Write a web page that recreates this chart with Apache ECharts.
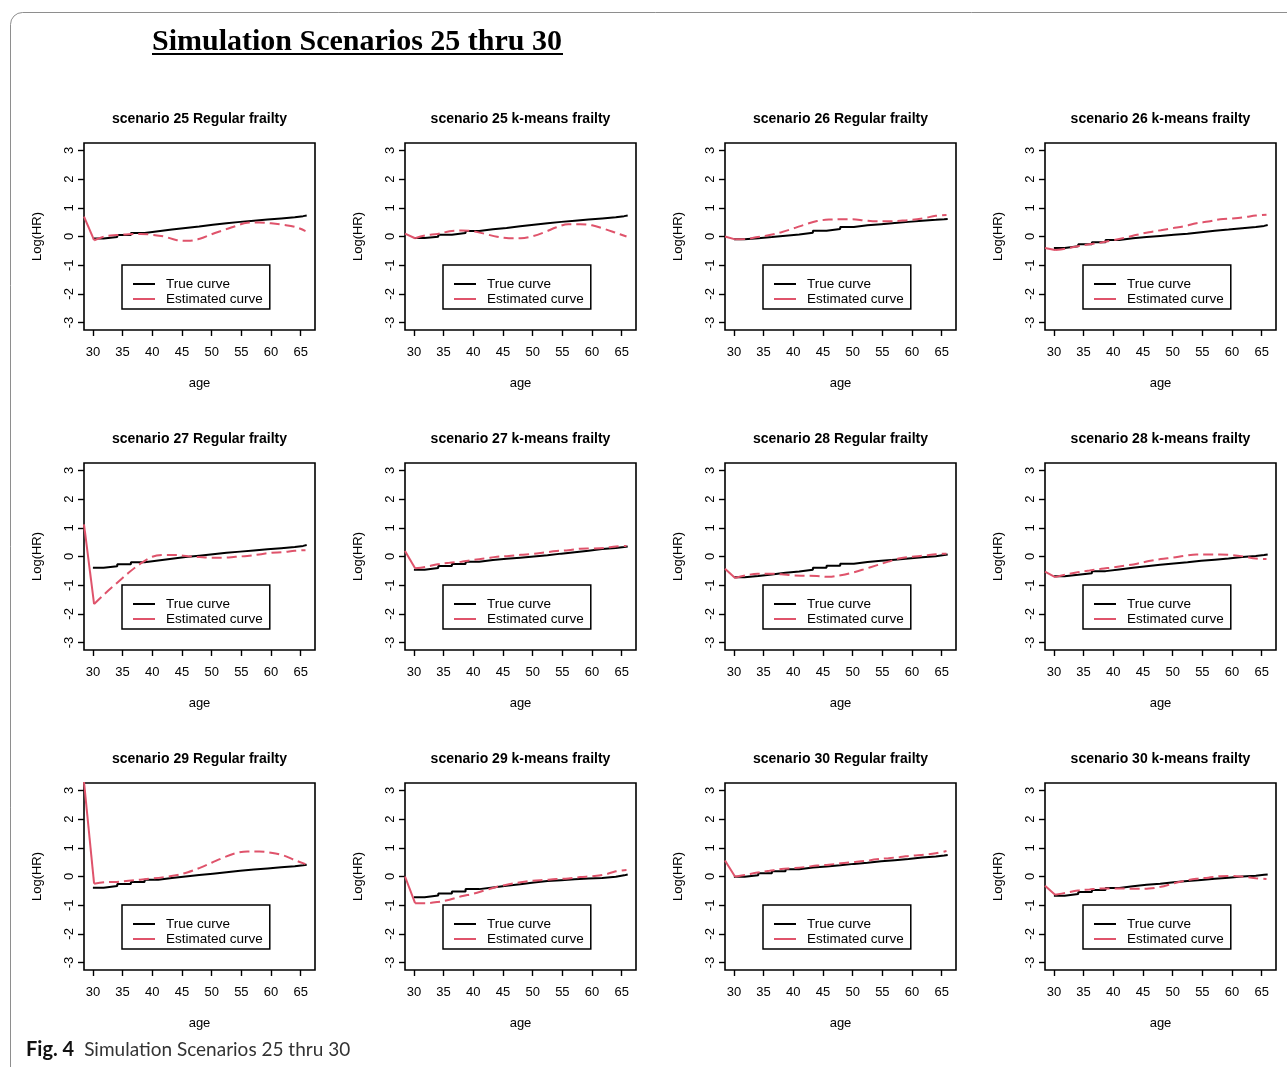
<!DOCTYPE html>
<html>
<head>
<meta charset="utf-8">
<script src="https://cdn.jsdelivr.net/npm/echarts@6/dist/echarts.min.js"></script>
<style>
  html, body { margin: 0; padding: 0; background: #fff; }
  #chart { width: 1287px; height: 1067px; }
</style>
</head>
<body>
<div id="chart"></div>
<script>
// Axis ticks
const AGE_TICKS = [30, 35, 40, 45, 50, 55, 60, 65];
const LOG_HR_TICKS = [-3, -2, -1, 0, 1, 2, 3];

// Ages where the true (step) curve changes level
const TRUE_AGES = [30.0, 31.8, 34.1, 36.4, 38.7, 41.0, 43.3, 45.6, 47.9, 50.2, 52.5, 54.8, 57.1, 59.4, 61.7, 64.0, 65.4, 66.0];
// Ages where the estimated curve is evaluated
const EST_AGES = [28.5, 30.2, 32, 34, 36, 38, 40, 42, 44, 46, 48, 50, 52, 54, 56, 58, 60, 62, 64, 65.8];

const PANEL_TITLES = [
  'scenario 25 Regular frailty', 'scenario 25 k-means frailty',
  'scenario 26 Regular frailty', 'scenario 26 k-means frailty',
  'scenario 27 Regular frailty', 'scenario 27 k-means frailty',
  'scenario 28 Regular frailty', 'scenario 28 k-means frailty',
  'scenario 29 Regular frailty', 'scenario 29 k-means frailty',
  'scenario 30 Regular frailty', 'scenario 30 k-means frailty'
];

// True log hazard ratio, one level per TRUE_AGES entry
const TRUE_S25_REG = [-0.07, -0.02, 0.05, 0.12, 0.18, 0.24, 0.30, 0.35, 0.41, 0.46, 0.51, 0.55, 0.59, 0.63, 0.67, 0.71, 0.73, 0.74];
const TRUE_S25_KM  = [-0.05, -0.01, 0.06, 0.12, 0.19, 0.25, 0.30, 0.36, 0.41, 0.46, 0.51, 0.55, 0.59, 0.63, 0.67, 0.71, 0.73, 0.75];
const TRUE_S26_REG = [-0.10, -0.06, -0.02, 0.03, 0.07, 0.13, 0.20, 0.26, 0.33, 0.39, 0.43, 0.47, 0.51, 0.55, 0.58, 0.60, 0.61, 0.62];
const TRUE_S26_KM  = [-0.40, -0.34, -0.27, -0.20, -0.12, -0.06, -0.02, 0.02, 0.06, 0.10, 0.15, 0.20, 0.24, 0.29, 0.33, 0.37, 0.40, 0.41];
const TRUE_S27_REG = [-0.39, -0.34, -0.27, -0.20, -0.14, -0.08, -0.02, 0.03, 0.08, 0.13, 0.17, 0.21, 0.25, 0.29, 0.33, 0.37, 0.40, 0.41];
const TRUE_S27_KM  = [-0.46, -0.40, -0.33, -0.26, -0.18, -0.12, -0.08, -0.04, 0.00, 0.04, 0.10, 0.15, 0.20, 0.26, 0.30, 0.33, 0.35, 0.36];
const TRUE_S28_REG = [-0.72, -0.68, -0.63, -0.57, -0.52, -0.46, -0.39, -0.32, -0.25, -0.19, -0.15, -0.11, -0.07, -0.03, 0.01, 0.05, 0.07, 0.08];
const TRUE_S28_KM  = [-0.69, -0.64, -0.58, -0.51, -0.45, -0.39, -0.34, -0.29, -0.24, -0.20, -0.15, -0.11, -0.07, -0.02, 0.02, 0.05, 0.07, 0.08];
const TRUE_S29_REG = [-0.39, -0.33, -0.26, -0.19, -0.11, -0.05, 0.00, 0.05, 0.10, 0.15, 0.20, 0.24, 0.28, 0.32, 0.36, 0.39, 0.41, 0.42];
const TRUE_S29_KM  = [-0.72, -0.66, -0.59, -0.52, -0.44, -0.38, -0.32, -0.27, -0.21, -0.16, -0.13, -0.10, -0.07, -0.05, -0.01, 0.04, 0.07, 0.08];
const TRUE_S30_REG = [-0.01, 0.04, 0.11, 0.18, 0.25, 0.31, 0.35, 0.39, 0.44, 0.48, 0.53, 0.57, 0.61, 0.66, 0.70, 0.73, 0.75, 0.76];
const TRUE_S30_KM  = [-0.67, -0.61, -0.54, -0.47, -0.40, -0.34, -0.29, -0.25, -0.20, -0.16, -0.12, -0.08, -0.04, 0.00, 0.03, 0.06, 0.07, 0.08];

// Estimated log hazard ratio, one value per EST_AGES entry
const EST_S25_REG = [0.69, -0.13, 0.00, 0.05, 0.08, 0.09, 0.06, 0.00, -0.12, -0.15, -0.08, 0.08, 0.22, 0.36, 0.48, 0.49, 0.46, 0.41, 0.34, 0.19];
const EST_S25_KM  = [0.10, -0.06, 0.04, 0.09, 0.18, 0.21, 0.18, 0.09, -0.01, -0.06, -0.06, 0.01, 0.15, 0.32, 0.43, 0.43, 0.39, 0.27, 0.13, 0.00];
const EST_S26_REG = [0.00, -0.10, -0.09, -0.02, 0.05, 0.15, 0.28, 0.42, 0.54, 0.59, 0.60, 0.60, 0.56, 0.53, 0.53, 0.55, 0.58, 0.64, 0.72, 0.75];
const EST_S26_KM  = [-0.40, -0.47, -0.42, -0.34, -0.27, -0.21, -0.13, -0.04, 0.06, 0.15, 0.22, 0.29, 0.36, 0.46, 0.52, 0.60, 0.63, 0.67, 0.73, 0.76];
const EST_S27_REG = [1.12, -1.66, -1.30, -0.93, -0.57, -0.25, -0.01, 0.05, 0.05, 0.01, -0.02, -0.04, -0.04, -0.01, 0.02, 0.07, 0.13, 0.15, 0.20, 0.22];
const EST_S27_KM  = [0.19, -0.41, -0.36, -0.27, -0.22, -0.18, -0.12, -0.07, -0.01, 0.02, 0.06, 0.09, 0.14, 0.19, 0.22, 0.27, 0.28, 0.30, 0.35, 0.37];
const EST_S28_REG = [-0.43, -0.75, -0.66, -0.60, -0.60, -0.62, -0.66, -0.67, -0.68, -0.71, -0.65, -0.56, -0.44, -0.31, -0.18, -0.06, -0.01, 0.03, 0.08, 0.10];
const EST_S28_KM  = [-0.53, -0.72, -0.63, -0.55, -0.49, -0.43, -0.38, -0.32, -0.25, -0.16, -0.09, -0.04, 0.02, 0.07, 0.07, 0.07, 0.05, 0.00, -0.07, -0.09];
const EST_S29_REG = [3.30, -0.25, -0.20, -0.19, -0.15, -0.11, -0.07, -0.02, 0.04, 0.15, 0.30, 0.48, 0.66, 0.81, 0.87, 0.87, 0.83, 0.74, 0.57, 0.43];
const EST_S29_KM  = [0.00, -0.93, -0.93, -0.89, -0.81, -0.69, -0.60, -0.48, -0.36, -0.27, -0.20, -0.15, -0.12, -0.09, -0.07, -0.02, 0.01, 0.06, 0.18, 0.23];
const EST_S30_REG = [0.56, -0.01, 0.06, 0.14, 0.20, 0.26, 0.29, 0.33, 0.38, 0.41, 0.46, 0.50, 0.54, 0.60, 0.64, 0.68, 0.73, 0.76, 0.81, 0.89];
const EST_S30_KM  = [-0.32, -0.64, -0.57, -0.49, -0.45, -0.42, -0.42, -0.42, -0.43, -0.42, -0.36, -0.25, -0.15, -0.08, -0.04, 0.01, 0.02, -0.01, -0.06, -0.09];

const TRUE_CURVES = [TRUE_S25_REG, TRUE_S25_KM, TRUE_S26_REG, TRUE_S26_KM, TRUE_S27_REG, TRUE_S27_KM,
                     TRUE_S28_REG, TRUE_S28_KM, TRUE_S29_REG, TRUE_S29_KM, TRUE_S30_REG, TRUE_S30_KM];
const EST_CURVES = [EST_S25_REG, EST_S25_KM, EST_S26_REG, EST_S26_KM, EST_S27_REG, EST_S27_KM,
                    EST_S28_REG, EST_S28_KM, EST_S29_REG, EST_S29_KM, EST_S30_REG, EST_S30_KM];

// Layout of the 4 x 3 panel grid
const FONT = "'Liberation Sans', Arial, Helvetica, sans-serif";
const RED = '#DF536B';
const COL_LEFT = [84, 405, 725, 1045];
const ROW_TOP = [143, 463, 783];
const GRID_W = 231;
const GRID_H = 187;

const grids = [], xAxes = [], yAxes = [], titles = [], legends = [], series = [];

PANEL_TITLES.forEach((name, i) => {
  const left = COL_LEFT[i % 4];
  const top = ROW_TOP[Math.floor(i / 4)];

  grids.push({
    left: left, top: top, width: GRID_W, height: GRID_H,
    show: true, borderColor: '#000', borderWidth: 1.6, backgroundColor: 'transparent'
  });

  xAxes.push({
    gridIndex: i, type: 'value', min: 28.5, max: 67.4, position: 'bottom',
    axisLine: { show: false, onZero: false },
    axisTick: { show: true, length: 6, lineStyle: { color: '#000', width: 1.4 }, customValues: AGE_TICKS },
    axisLabel: { color: '#000', fontFamily: FONT, fontSize: 13, margin: 16, customValues: AGE_TICKS },
    splitLine: { show: false },
    name: 'age', nameLocation: 'middle', nameGap: 47,
    nameTextStyle: { color: '#000', fontFamily: FONT, fontSize: 13 }
  });

  yAxes.push({
    gridIndex: i, type: 'value', min: -3.26, max: 3.26, position: 'left',
    axisLine: { show: false, onZero: false },
    axisTick: { show: true, length: 6, lineStyle: { color: '#000', width: 1.4 }, customValues: LOG_HR_TICKS },
    axisLabel: { color: '#000', fontFamily: FONT, fontSize: 13, margin: 8, rotate: 90, customValues: LOG_HR_TICKS },
    splitLine: { show: false },
    name: 'Log(HR)', nameLocation: 'middle', nameGap: 40,
    nameTextStyle: { color: '#000', fontFamily: FONT, fontSize: 13 }
  });

  titles.push({
    text: name, left: left + GRID_W / 2, top: top - 31, textAlign: 'center', padding: 0,
    textStyle: { color: '#000', fontFamily: FONT, fontSize: 14, fontWeight: 'bold' }
  });

  legends.push({
    left: left + 38, top: top + 122, orient: 'vertical',
    selectedMode: false,
    borderColor: '#000', borderWidth: 1.5, borderRadius: 0,
    padding: [12, 7, 3, 11],
    itemWidth: 22, itemHeight: 2, itemGap: 1,
    textStyle: { color: '#000', fontFamily: FONT, fontSize: 13.5, lineHeight: 14, padding: [0, 0, 0, 6] },
    data: [
      { name: 'True curve', icon: 'rect', itemStyle: { color: '#000' } },
      { name: 'Estimated curve', icon: 'rect', itemStyle: { color: RED } }
    ]
  });

  const trueData = TRUE_AGES.map((a, k) => [a, TRUE_CURVES[i][k]]);
  const estData = EST_AGES.map((a, k) => [a, EST_CURVES[i][k]]);

  series.push({
    name: 'True curve', type: 'line', xAxisIndex: i, yAxisIndex: i,
    data: trueData, step: 'end', symbol: 'none', color: '#000',
    lineStyle: { color: '#000', width: 2 }, clip: true, z: 2
  });
  // Drop from the left border down to the first estimate
  series.push({
    name: 'Estimated curve', type: 'line', xAxisIndex: i, yAxisIndex: i,
    data: estData.slice(0, 2), symbol: 'none', color: RED,
    lineStyle: { color: RED, width: 2 }, clip: true, z: 3
  });
  series.push({
    name: 'Estimated curve', type: 'line', xAxisIndex: i, yAxisIndex: i,
    data: estData.slice(1), symbol: 'none', color: RED, smooth: 0.35,
    lineStyle: { color: RED, width: 2, type: [10, 5] }, clip: true, z: 3
  });
});

const chart = echarts.init(document.getElementById('chart'), null, { renderer: 'canvas' });
chart.setOption({
  backgroundColor: '#fff',
  animation: false,
  grid: grids,
  xAxis: xAxes,
  yAxis: yAxes,
  title: titles,
  legend: legends,
  series: series,
  graphic: [
    {
      type: 'rect', silent: true, z: 0,
      shape: { x: 10.5, y: 12.5, width: 1400, height: 1200, r: 12 },
      style: { fill: 'none', stroke: '#8e8e8e', lineWidth: 1 }
    },
    {
      type: 'text', left: 152, top: 27, silent: true,
      style: {
        text: 'Simulation Scenarios 25 thru 30',
        font: "bold 30px 'Liberation Serif', 'Times New Roman', serif",
        fill: '#000'
      }
    },
    {
      type: 'line', silent: true,
      shape: { x1: 152, y1: 54, x2: 563, y2: 54 },
      style: { stroke: '#000', lineWidth: 2 }
    },
    {
      type: 'text', left: 26, top: 1040, silent: true,
      style: {
        text: '{b|Fig. 4}   {n|Simulation Scenarios 25 thru 30}',
        rich: {
          b: { fontFamily: 'Lato, "Open Sans", sans-serif', fontWeight: 'bold', fontSize: 20, fill: '#111' },
          n: { fontFamily: 'Lato, "Open Sans", sans-serif', fontSize: 19, fill: '#333' }
        }
      }
    }
  ]
});
</script>
</body>
</html>
